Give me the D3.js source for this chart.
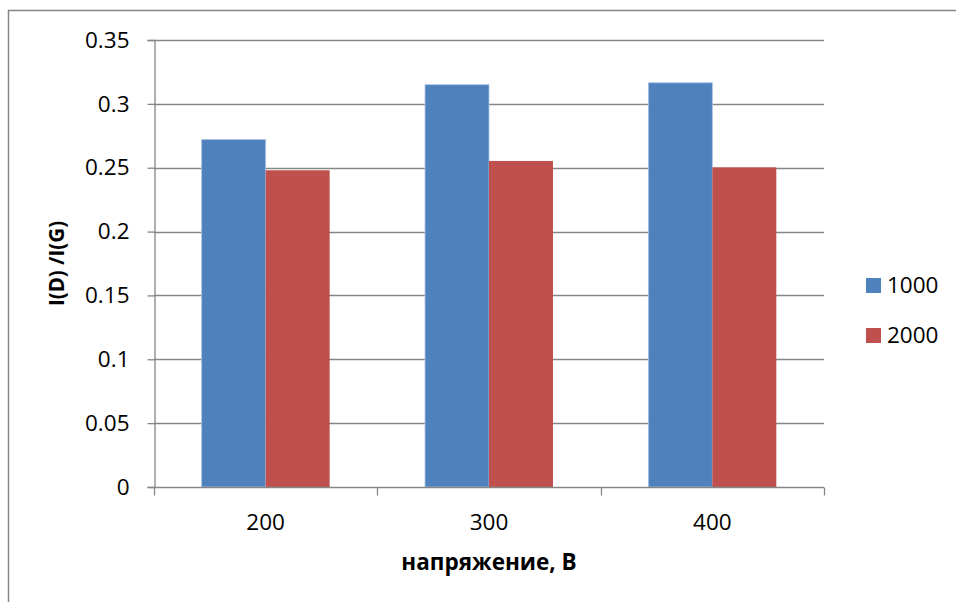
<!DOCTYPE html>
<html>
<head>
<meta charset="utf-8">
<script src="https://cdn.jsdelivr.net/npm/d3@7"></script>
<style>
  body { margin: 0; background: #fff; }
  svg { display: block; font-family: 'Open Sans', 'Liberation Sans', sans-serif; }
</style>
</head>
<body>
<svg id="chart" width="956" height="602"></svg>
<script>
const categories = ['200', '300', '400']
const seriesNames = ['1000', '2000']
const values1000 = [0.272, 0.315, 0.3165]
const values2000 = [0.248, 0.2553, 0.2503]
const yTicks = [0, 0.05, 0.1, 0.15, 0.2, 0.25, 0.3, 0.35]
const colors = ['#4F81BD', '#C0504D']

const w = 956
const h = 602
const plot = { left: 154, right: 824, top: 40, bottom: 487 }
const gridColor = '#868686'
const fontSize = 22.5

const svg = d3.select('#chart').attr('width', w).attr('height', h)

// outer chart frame (only top/left visible in the window)
svg.append('rect')
  .attr('x', 8.5).attr('y', 10.5)
  .attr('width', 1000).attr('height', 1000)
  .attr('fill', 'none')
  .attr('stroke', gridColor)
  .attr('stroke-width', 1.5)

const y = d3.scaleLinear().domain([0, 0.35]).range([plot.bottom, plot.top])

const x = d3.scaleBand()
  .domain(categories)
  .range([plot.left, plot.right])
  .paddingInner(0.427)
  .paddingOuter(0.2135)

const xSub = d3.scaleBand().domain(seriesNames).range([0, x.bandwidth()])

// gridlines
svg.append('g')
  .selectAll('line')
  .data(yTicks.filter((d) => d > 0))
  .join('line')
  .attr('x1', plot.left)
  .attr('x2', plot.right)
  .attr('y1', (d) => Math.round(y(d)) + 0.5)
  .attr('y2', (d) => Math.round(y(d)) + 0.5)
  .attr('stroke', gridColor)
  .attr('stroke-width', 1.3)

// bars
const rows = categories.map((c, i) => ({ cat: c, vals: [values1000[i], values2000[i]] }))

svg.append('g')
  .selectAll('g')
  .data(rows)
  .join('g')
  .attr('transform', (d) => `translate(${x(d.cat)},0)`)
  .selectAll('rect')
  .data((d) => d.vals.map((v, i) => ({ key: seriesNames[i], v, i })))
  .join('rect')
  .attr('x', (d) => xSub(d.key))
  .attr('y', (d) => y(d.v))
  .attr('width', xSub.bandwidth())
  .attr('height', (d) => y(0) - y(d.v))
  .attr('fill', (d) => colors[d.i])
  .attr('stroke', (d) => (d.i === 0 ? '#A9C4E6' : 'none'))
  .attr('stroke-width', 0.8)

// y axis
const yAxis = svg.append('g')
  .attr('transform', `translate(${plot.left + 0.5},0)`)
  .call(d3.axisLeft(y).tickValues(yTicks).tickSize(7).tickPadding(18).tickFormat((d) => String(d)))
yAxis.select('.domain').attr('stroke', gridColor).attr('stroke-width', 1.3)
yAxis.selectAll('.tick line').attr('stroke', gridColor).attr('stroke-width', 1.3)
yAxis.selectAll('.tick text')
  .attr('font-size', fontSize)
  .attr('fill', '#000')
  .attr('font-family', "'Open Sans', sans-serif")

// x axis
const xAxisG = svg.append('g').attr('transform', `translate(0,${plot.bottom + 0.5})`)
xAxisG.append('line')
  .attr('x1', plot.left).attr('x2', plot.right)
  .attr('stroke', gridColor).attr('stroke-width', 1.3)
const xEdges = categories.map((c) => x(c) - (x.step() - x.bandwidth()) / 2).concat([plot.right])
xAxisG.selectAll('line.tick')
  .data(xEdges)
  .join('line')
  .attr('class', 'tick')
  .attr('x1', (d) => Math.round(d) + 0.5)
  .attr('x2', (d) => Math.round(d) + 0.5)
  .attr('y1', 0)
  .attr('y2', 8)
  .attr('stroke', gridColor)
  .attr('stroke-width', 1.3)
xAxisG.selectAll('text')
  .data(categories)
  .join('text')
  .attr('x', (d) => x(d) + x.bandwidth() / 2)
  .attr('y', 42)
  .attr('text-anchor', 'middle')
  .attr('font-size', fontSize)
  .text((d) => d)

// axis titles
svg.append('text')
  .attr('transform', `translate(64,${(plot.top + plot.bottom) / 2}) rotate(-90)`)
  .attr('text-anchor', 'middle')
  .attr('font-size', 20.5)
  .attr('font-weight', 'bold')
  .text('I(D) /I(G)')

svg.append('text')
  .attr('x', 489)
  .attr('y', 570)
  .attr('text-anchor', 'middle')
  .attr('font-size', fontSize)
  .attr('font-weight', 'bold')
  .text('напряжение, В')

// legend
const legend = svg.append('g').attr('transform', 'translate(866,278)')
legend.selectAll('g')
  .data(seriesNames)
  .join('g')
  .attr('transform', (d, i) => `translate(0,${i * 50})`)
  .call((g) => {
    g.append('rect').attr('width', 15).attr('height', 15).attr('fill', (d, i) => colors[i])
    g.append('text')
      .attr('x', 21)
      .attr('y', 15)
      .attr('font-size', fontSize)
      .text((d) => d)
  })
</script>
</body>
</html>
